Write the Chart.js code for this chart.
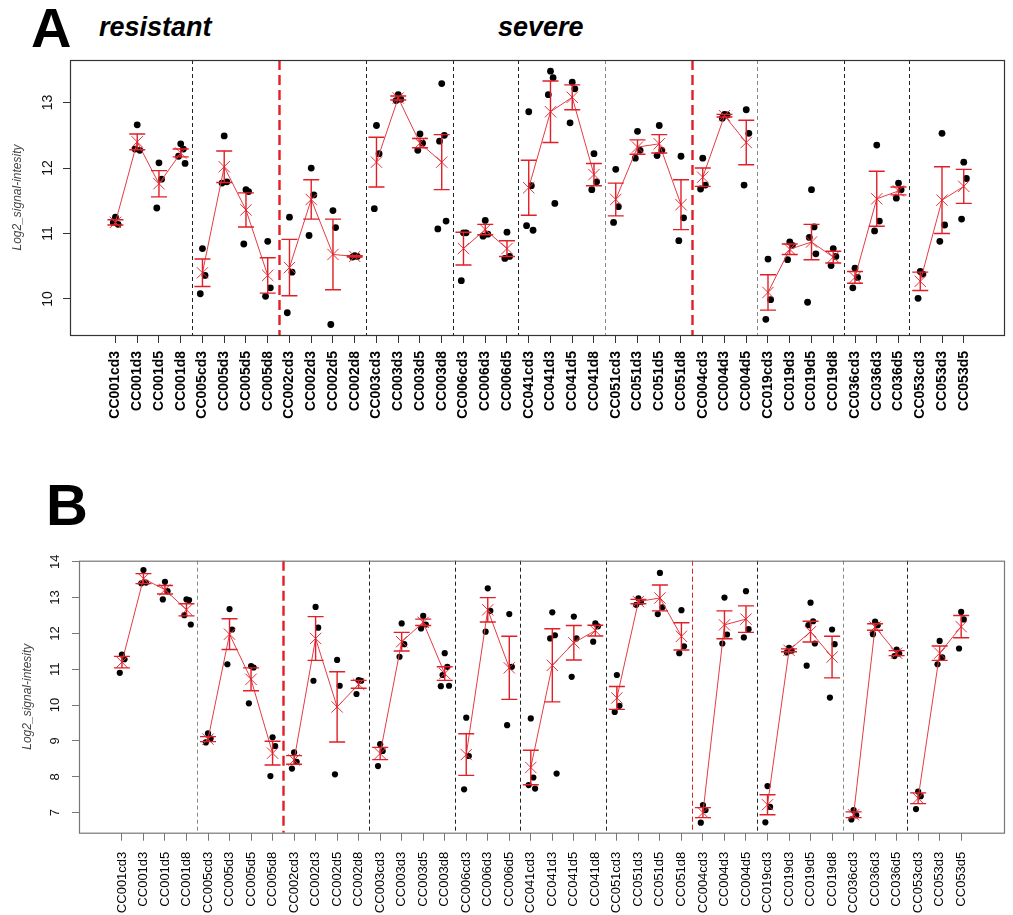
<!DOCTYPE html>
<html>
<head>
<meta charset="utf-8">
<script src="https://cdn.jsdelivr.net/npm/chart.js@4.4.1/dist/chart.umd.min.js"></script>
<style>
  body { margin: 0; background: #fff; width: 1013px; height: 915px; overflow: hidden; position: relative;
         font-family: "Liberation Sans", Arial, sans-serif; }
  canvas { position: absolute; left: 0; }
  #chartA { top: 0; }
  #chartB { top: 450px; }
  .lbl { position: absolute; line-height: 1; color: #000; font-weight: bold; white-space: nowrap; }
  .big { font-size: 56px; }
  .grp { font-size: 27px; font-style: italic; }
</style>
</head>
<body>
<div class="lbl big" style="left:31px;top:0px">A</div>
<div class="lbl grp" style="left:99px;top:14px">resistant</div>
<div class="lbl grp" style="left:498px;top:14px">severe</div>
<div class="lbl big" style="left:46px;top:476px;font-size:58px">B</div>
<canvas id="chartA" width="1013" height="445"></canvas>
<canvas id="chartB" width="1013" height="465"></canvas>
<script>
// sample labels (same for both panels)
const categories = [
  'CC001cd3','CC001d3','CC001d5','CC001d8',
  'CC005cd3','CC005d3','CC005d5','CC005d8',
  'CC002cd3','CC002d3','CC002d5','CC002d8',
  'CC003cd3','CC003d3','CC003d5','CC003d8',
  'CC006cd3','CC006d3','CC006d5',
  'CC041cd3','CC041d3','CC041d5','CC041d8',
  'CC051cd3','CC051d3','CC051d5','CC051d8',
  'CC004cd3','CC004d3','CC004d5',
  'CC019cd3','CC019d3','CC019d5','CC019d8',
  'CC036cd3','CC036d3','CC036d5',
  'CC053cd3','CC053d3','CC053d5'
];
// positions between strains (dashed separators)
const groupBreaks = [3.5, 7.5, 11.5, 15.5, 18.5, 22.5, 26.5, 29.5, 33.5, 36.5];

// panel A
const aYTicks = [10, 11, 12, 13];
const aMean = [11.17, 12.40, 11.76, 12.23, 10.40, 12.02, 11.36, 10.36, 10.48, 11.52, 10.68, 10.65,
  12.09, 13.07, 12.38, 12.09, 10.77, 11.06, 10.77, 11.70, 12.86, 13.08, 11.90, 11.52, 12.32, 12.37, 11.44,
  11.86, 12.80, 12.39, 10.10, 10.76, 10.87, 10.64, 10.33, 11.53, 11.65, 10.27, 11.51, 11.72];
const aErr = [0.04, 0.12, 0.20, 0.06, 0.21, 0.24, 0.26, 0.27, 0.43, 0.30, 0.54, 0.01,
  0.38, 0.03, 0.07, 0.42, 0.25, 0.08, 0.12, 0.42, 0.47, 0.19, 0.17, 0.25, 0.11, 0.14, 0.38,
  0.14, 0.02, 0.34, 0.27, 0.08, 0.27, 0.09, 0.09, 0.42, 0.06, 0.14, 0.51, 0.26];
const aPoints = [
  [11.25, 11.14, 11.17], [12.66, 12.27, 12.29], [12.08, 11.83, 11.39], [12.37, 12.29, 12.18, 12.07],
  [10.77, 10.36, 10.08], [12.49, 11.79, 11.77], [11.67, 11.64, 10.84], [10.88, 10.17, 10.04],
  [11.25, 10.41, 9.79], [12.00, 11.59, 10.97], [11.35, 11.09, 9.61], [10.66, 10.65, 10.64],
  [12.65, 12.22, 11.38], [13.12, 13.05, 13.03], [12.52, 12.38, 12.27], [13.29, 12.50, 12.41, 11.19, 11.07],
  [11.01, 11.01, 10.28], [11.20, 10.99, 10.96], [11.02, 10.65, 10.62],
  [12.86, 11.73, 11.12, 11.05], [13.48, 13.38, 13.12, 11.46], [13.31, 13.21, 12.69], [12.22, 11.79, 11.67],
  [11.98, 11.41, 11.17], [12.56, 12.27, 12.15], [12.65, 12.27, 12.19], [12.18, 11.24, 10.89],
  [12.15, 11.74, 11.68], [12.82, 12.81, 12.76], [12.89, 12.53, 11.74],
  [10.61, 9.99, 9.69], [10.87, 10.82, 10.60], [11.67, 11.10, 10.94, 10.69, 9.95], [10.77, 10.65, 10.51],
  [10.47, 10.33, 10.17], [12.35, 11.19, 11.04], [11.77, 11.67, 11.54],
  [10.42, 10.38, 10.01], [12.53, 11.13, 10.88], [12.09, 11.84, 11.22]
];

// panel B
const bYTicks = [7, 8, 9, 10, 11, 12, 13, 14];
const bMean = [11.20, 13.53, 13.22, 12.66, 9.05, 11.98, 10.72, 8.66, 8.47, 11.86, 9.95, 10.58,
  8.65, 11.77, 12.31, 10.88, 8.62, 12.66, 11.04, 8.26, 11.11, 11.74, 12.08, 10.20, 12.89, 12.99, 11.92,
  7.00, 12.24, 12.40, 7.22, 11.53, 12.05, 11.34, 6.94, 12.18, 11.45, 7.40, 11.45, 12.19];
const bErr = [0.16, 0.14, 0.12, 0.17, 0.07, 0.43, 0.32, 0.33, 0.12, 0.61, 0.98, 0.11,
  0.17, 0.26, 0.09, 0.19, 0.58, 0.34, 0.88, 0.48, 1.02, 0.48, 0.15, 0.32, 0.06, 0.36, 0.38,
  0.14, 0.39, 0.37, 0.28, 0.04, 0.29, 0.58, 0.08, 0.09, 0.07, 0.15, 0.20, 0.31];
const bPoints = [
  [11.41, 11.28, 10.90], [13.77, 13.42, 13.40], [13.44, 13.18, 12.95], [12.95, 12.93, 12.51, 12.25],
  [9.21, 9.07, 8.96], [12.68, 12.11, 11.14], [11.09, 11.05, 10.05], [9.10, 8.86, 8.02],
  [8.68, 8.42, 8.23], [12.74, 12.16, 10.68], [11.26, 10.54, 8.07], [10.70, 10.68, 10.31],
  [8.91, 8.72, 8.30], [12.28, 11.70, 11.35], [12.49, 12.25, 12.14], [11.45, 11.07, 10.84, 10.54, 10.53],
  [9.65, 8.58, 7.65], [13.26, 12.63, 12.05], [12.54, 11.07, 9.44],
  [9.63, 7.98, 7.77, 7.67], [12.59, 11.95, 11.86, 8.09], [12.47, 11.86, 10.79], [12.28, 12.20, 11.77],
  [10.84, 9.98, 9.81], [12.98, 12.88, 12.80], [13.69, 12.73, 12.54], [12.65, 11.64, 11.45],
  [7.21, 7.07, 6.72], [13.00, 11.97, 11.72], [13.18, 12.12, 11.89],
  [7.74, 7.16, 6.73], [11.60, 11.52, 11.47], [12.86, 12.34, 12.23, 11.72, 11.10], [12.11, 11.70, 10.21],
  [7.07, 6.93, 6.81], [12.33, 12.23, 11.98], [11.55, 11.44, 11.37],
  [7.59, 7.46, 7.10], [11.79, 11.33, 11.14], [12.60, 12.39, 11.58]
];

// styles
const FONT = '"Liberation Sans", Arial, sans-serif';
const RED = 'rgb(226, 30, 38)';
const jitter = [0, 0.12, -0.1, 0.2, -0.18];
const dash = { c: '#222', w: 1, d: [4, 3] };
const grey = { c: '#888', w: 1, d: [4, 3] };
const redThick = { c: RED, w: 2.4, d: [10, 5] };
const redThin = { c: RED, w: 1, d: [5, 3] };
const aBreakStyle = [dash, redThick, dash, dash, dash, grey, redThick, grey, dash, dash];
const bBreakStyle = [grey, redThick, dash, dash, dash, dash, redThin, dash, grey, dash];

function makePanel(id, p) {
  const lineData = [];
  categories.forEach((c, i) => {
    if (groupBreaks.includes(i - 0.5)) lineData.push({ x: i - 0.5, y: null });
    lineData.push({ x: i, y: p.mean[i] });
  });
  const dots = [];
  p.points.forEach((arr, i) => arr.forEach((v, k) => dots.push({ x: i + jitter[k], y: v })));

  const extras = {
    id: 'extras' + id,
    beforeDatasetsDraw(chart) {
      const { ctx, chartArea: a, scales: { x } } = chart;
      ctx.save();
      groupBreaks.forEach((b, j) => {
        const s = p.breakStyle[j];
        const px = Math.round(x.getPixelForValue(b)) + 0.5;
        ctx.strokeStyle = s.c; ctx.lineWidth = s.w; ctx.setLineDash(s.d);
        ctx.beginPath(); ctx.moveTo(px, a.top); ctx.lineTo(px, a.bottom); ctx.stroke();
      });
      ctx.restore();
    },
    afterDatasetsDraw(chart) {
      const { ctx, scales: { x, y } } = chart;
      ctx.save();
      ctx.strokeStyle = RED; ctx.lineWidth = 1.4;
      p.mean.forEach((m, i) => {
        const px = x.getPixelForValue(i);
        const t = y.getPixelForValue(m + p.err[i]);
        const b = y.getPixelForValue(m - p.err[i]);
        ctx.beginPath();
        ctx.moveTo(px, t); ctx.lineTo(px, b);
        ctx.moveTo(px - 8, t); ctx.lineTo(px + 8, t);
        ctx.moveTo(px - 8, b); ctx.lineTo(px + 8, b);
        ctx.stroke();
      });
      ctx.restore();
    },
    afterDraw(chart) {
      const { ctx, chartArea: a, scales: { y } } = chart;
      ctx.save();
      ctx.strokeStyle = p.boxColor; ctx.lineWidth = 1.2; ctx.setLineDash([]);
      ctx.strokeRect(a.left + 0.5, a.top + 0.5, a.right - a.left, a.bottom - a.top);
      ctx.fillStyle = '#111';
      ctx.font = p.yFont + 'px ' + FONT;
      ctx.textAlign = 'center'; ctx.textBaseline = 'middle';
      y.ticks.forEach(t => {
        ctx.save();
        ctx.translate(p.yLabelX, y.getPixelForValue(t.value));
        ctx.rotate(-Math.PI / 2);
        ctx.fillText(String(t.value), 0, 0);
        ctx.restore();
      });
      ctx.restore();
    }
  };

  return new Chart(document.getElementById(id), {
    type: 'scatter',
    data: {
      datasets: [
        {
          data: lineData, showLine: true, spanGaps: false,
          borderColor: 'rgb(228, 60, 68)', borderWidth: 1,
          pointStyle: 'crossRot', pointRadius: 8, pointBorderColor: 'rgb(228, 50, 58)',
          pointBorderWidth: 1, pointBackgroundColor: 'transparent', order: 1
        },
        {
          data: dots, pointRadius: p.dotR, backgroundColor: '#000', borderWidth: 0, order: 2
        }
      ]
    },
    options: {
      responsive: false, animation: false, devicePixelRatio: 1,
      layout: { padding: p.padding },
      plugins: { legend: { display: false }, tooltip: { enabled: false } },
      scales: {
        x: {
          type: 'linear', min: p.xMin, max: p.xMax,
          afterFit: s => { s.height = p.xAxisH; },
          afterBuildTicks: s => { s.ticks = categories.map((c, i) => ({ value: i })); },
          ticks: {
            autoSkip: false, minRotation: 90, maxRotation: 90, padding: p.xPad,
            color: '#000', font: { family: FONT, size: p.xFont, weight: p.xWeight },
            callback: v => categories[v]
          },
          grid: { drawOnChartArea: false, tickLength: 8, color: p.tickColor },
          border: { display: false }
        },
        y: {
          min: p.yMin, max: p.yMax,
          afterFit: s => { s.width = p.yAxisW; },
          afterBuildTicks: s => { s.ticks = p.yTicks.map(v => ({ value: v })); },
          ticks: { display: false },
          grid: { drawOnChartArea: false, tickLength: 7, color: p.tickColor },
          border: { display: false },
          title: {
            display: true, text: 'Log2_signal-intesity', color: '#444',
            font: { family: FONT, size: 12, style: 'italic' },
            padding: { top: p.titlePad, bottom: 0 }
          }
        }
      }
    },
    plugins: [extras]
  });
}

makePanel('chartA', {
  mean: aMean, err: aErr, points: aPoints, yTicks: aYTicks, breakStyle: aBreakStyle,
  xMin: -2.09, xMax: 40.85, yMin: 9.45, yMax: 13.65,
  padding: { top: 60, right: 5, left: 0, bottom: 0 }, xAxisH: 110, yAxisW: 70,
  xPad: 8, xFont: 14, xWeight: 'bold', tickColor: '#333', boxColor: '#333',
  yLabelX: 48, yFont: 14, titlePad: 10, dotR: 3.4
});
makePanel('chartB', {
  mean: bMean, err: bErr, points: bPoints, yTicks: bYTicks, breakStyle: bBreakStyle,
  xMin: -1.995, xMax: 40.99, yMin: 6.44, yMax: 14.03,
  padding: { top: 110.7, right: 1.3, left: 0, bottom: 0 }, xAxisH: 82.3, yAxisW: 79,
  xPad: 11, xFont: 13, xWeight: 'normal', tickColor: '#777', boxColor: '#777',
  yLabelX: 55, yFont: 13, titlePad: 20, dotR: 3.1
});
</script>
</body>
</html>
